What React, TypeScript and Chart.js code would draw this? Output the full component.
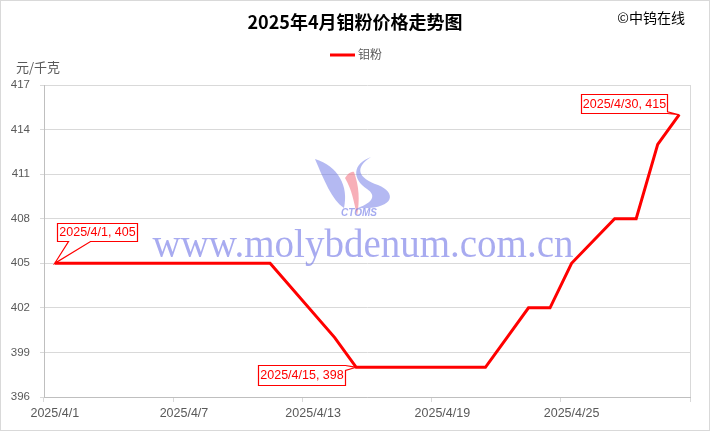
import { useEffect, useRef } from 'react';
import { Chart, registerables } from 'chart.js';

Chart.register(...registerables);

const TITLE = '2025年4月钼粉价格走势图';
const SOURCE = '©中钨在线';
const UNIT = '元/千克';
const SERIES_NAME = '钼粉';
const WATERMARK = 'www.molybdenum.com.cn';
const LOGO_TEXT = 'CTOMS';

const dates = [
  '2025/4/1', '2025/4/2', '2025/4/3', '2025/4/4', '2025/4/5', '2025/4/6',
  '2025/4/7', '2025/4/8', '2025/4/9', '2025/4/10', '2025/4/11', '2025/4/12',
  '2025/4/13', '2025/4/14', '2025/4/15', '2025/4/16', '2025/4/17', '2025/4/18',
  '2025/4/19', '2025/4/20', '2025/4/21', '2025/4/22', '2025/4/23', '2025/4/24',
  '2025/4/25', '2025/4/26', '2025/4/27', '2025/4/28', '2025/4/29', '2025/4/30',
];

// 元/千克; null = no quote that day (weekend / holiday)
const prices: (number | null)[] = [
  405, 405, 405, null, null, null,
  405, 405, 405, 405, 405, null,
  null, 400, 398, 398, 398, 398,
  null, null, 398, 400, 402, 402,
  405, null, 408, 408, 413, 415,
];

const xTickLabels = ['2025/4/1', '2025/4/7', '2025/4/13', '2025/4/19', '2025/4/25'];
const Y_MIN = 396;
const Y_MAX = 417;
const Y_STEP = 3;

// annotated points (category labels)
const calloutDates = ['2025/4/1', '2025/4/15', '2025/4/30'];

const RED = '#ff0000';
const GRID = '#d9d9d9';
const AXIS = '#bfbfbf';
const TEXT = '#595959';
const LATIN = "'Liberation Sans', Arial, sans-serif";
const CJK = "'Noto Sans CJK SC', 'Noto Sans', sans-serif";

// callout box styles: offset of box centre from point, box size, wedge side
const calloutStyles = [
  { dx: 42, dy: -31, w: 80, h: 18, side: 'bottom' },
  { dx: -55, dy: 8, w: 87, h: 20, side: 'right' },
  { dx: -55, dy: -11, w: 86, h: 19, side: 'right' },
];

const decorPlugin = {
  id: 'decor',
  beforeDraw(chart: any) {
    const { ctx, width, height } = chart;
    ctx.save();
    ctx.fillStyle = '#ffffff';
    ctx.fillRect(0, 0, width, height);
    ctx.restore();
  },
  beforeDatasetsDraw(chart: any) {
    const { ctx, chartArea } = chart;
    const cx = (chartArea.left + chartArea.right) / 2;
    const cy = (chartArea.top + chartArea.bottom) / 2;
    ctx.save();
    // watermark url
    ctx.font = `39px 'Liberation Serif', 'Times New Roman', serif`;
    ctx.fillStyle = 'rgba(110,115,230,0.6)';
    ctx.textAlign = 'center';
    ctx.textBaseline = 'alphabetic';
    ctx.fillText(WATERMARK, cx - 4, cy + 16);

    // logo, relative to centre
    const ox = cx - 367;
    const oy = cy - 241;
    ctx.translate(ox, oy);
    ctx.fillStyle = 'rgba(105,115,230,0.5)';
    // left swoosh
    ctx.beginPath();
    ctx.moveTo(315, 159);
    ctx.bezierCurveTo(338, 166, 349, 186, 344, 208);
    ctx.bezierCurveTo(332, 200, 324, 180, 315, 159);
    ctx.fill();
    // right swoosh
    ctx.beginPath();
    ctx.moveTo(371, 157);
    ctx.bezierCurveTo(354, 168, 358, 178, 378, 185);
    ctx.bezierCurveTo(398, 193, 394, 210, 358, 208);
    ctx.bezierCurveTo(374, 202, 376, 195, 367, 189);
    ctx.bezierCurveTo(352, 179, 352, 164, 371, 157);
    ctx.fill();
    // pink middle
    ctx.fillStyle = 'rgba(240,110,125,0.55)';
    ctx.beginPath();
    ctx.moveTo(345, 178);
    ctx.bezierCurveTo(348, 173, 352, 171, 354, 172);
    ctx.bezierCurveTo(359, 186, 360, 200, 357, 216);
    ctx.bezierCurveTo(354, 202, 352, 190, 345, 178);
    ctx.fill();
    ctx.font = `italic bold 10px ${LATIN}`;
    ctx.fillStyle = 'rgba(105,115,230,0.6)';
    ctx.textAlign = 'center';
    ctx.textBaseline = 'middle';
    ctx.fillText(LOGO_TEXT, 359, 213);
    ctx.restore();
  },
  afterDraw(chart: any) {
    const { ctx, chartArea, width, height } = chart;
    ctx.save();
    // plot area right border
    ctx.strokeStyle = GRID;
    ctx.lineWidth = 1;
    ctx.beginPath();
    ctx.moveTo(Math.round(chartArea.right) + 0.5, chartArea.top);
    ctx.lineTo(Math.round(chartArea.right) + 0.5, chartArea.bottom);
    ctx.stroke();
    // outer border
    ctx.strokeRect(0.5, 0.5, width - 1, height - 1);

    // title
    ctx.fillStyle = '#000000';
    ctx.textBaseline = 'middle';
    ctx.textAlign = 'center';
    ctx.font = `bold 18px ${CJK}`;
    ctx.fillText(TITLE, 355, 22);
    // source
    ctx.textAlign = 'right';
    ctx.font = `14px ${CJK}`;
    ctx.fillText(SOURCE, 685, 18);
    // legend
    ctx.strokeStyle = RED;
    ctx.lineWidth = 3;
    ctx.beginPath();
    ctx.moveTo(330, 55);
    ctx.lineTo(355, 55);
    ctx.stroke();
    ctx.fillStyle = TEXT;
    ctx.textAlign = 'left';
    ctx.font = `12px ${CJK}`;
    ctx.fillText(SERIES_NAME, 358, 54);
    // unit
    ctx.font = `13px ${CJK}`;
    ctx.fillText(UNIT, 16, 67);

    // callouts
    const meta = chart.getDatasetMeta(0);
    calloutDates.forEach((d, k) => {
      const i = dates.indexOf(d);
      const pt = meta.data[i];
      if (!pt) return;
      const st = calloutStyles[k];
      const px = pt.x;
      const py = pt.y;
      const bx = Math.round(px + st.dx - st.w / 2) + 0.5;
      const by = Math.round(py + st.dy - st.h / 2) + 0.5;
      ctx.lineWidth = 1.2;
      ctx.strokeStyle = RED;
      ctx.fillStyle = '#ffffff';
      ctx.beginPath();
      if (st.side === 'bottom') {
        const a = bx + 11;
        const b = bx + 33;
        ctx.moveTo(bx, by);
        ctx.lineTo(bx + st.w, by);
        ctx.lineTo(bx + st.w, by + st.h);
        ctx.lineTo(b, by + st.h);
        ctx.lineTo(px, py);
        ctx.lineTo(a, by + st.h);
        ctx.lineTo(bx, by + st.h);
        ctx.closePath();
      } else {
        const rx = bx + st.w;
        const a = Math.min(by + st.h, Math.max(by, py - 3));
        const b = Math.min(by + st.h, a + 5);
        ctx.moveTo(bx, by);
        ctx.lineTo(rx, by);
        ctx.lineTo(rx, a);
        ctx.lineTo(px, py);
        ctx.lineTo(rx, b);
        ctx.lineTo(rx, by + st.h);
        ctx.lineTo(bx, by + st.h);
        ctx.closePath();
      }
      ctx.fill();
      ctx.stroke();
      ctx.fillStyle = RED;
      ctx.textAlign = 'center';
      ctx.textBaseline = 'middle';
      ctx.font = `12.5px ${LATIN}`;
      ctx.fillText(`${d}, ${prices[i]}`, bx + st.w / 2, by + st.h / 2 + 0.5);
    });
    ctx.restore();
  },
};

export default function App() {
  const ref = useRef<HTMLCanvasElement | null>(null);

  useEffect(() => {
    if (!ref.current) return;
    const tickIdx = (v: any) => xTickLabels.indexOf(dates[v]) >= 0;
    const chart = new Chart(ref.current, {
      type: 'line',
      data: {
        labels: dates,
        datasets: [
          {
            label: SERIES_NAME,
            data: prices,
            borderColor: RED,
            backgroundColor: RED,
            borderWidth: 3,
            pointRadius: 0,
            pointHoverRadius: 0,
            tension: 0,
            spanGaps: true,
            borderJoinStyle: 'miter',
          },
        ],
      },
      options: {
        responsive: false,
        animation: false,
        devicePixelRatio: 1,
        layout: { padding: { left: 0, right: 20, top: 85, bottom: 0 } },
        plugins: {
          legend: { display: false },
          title: { display: false },
          tooltip: { enabled: false },
        },
        scales: {
          x: {
            type: 'category',
            offset: true,
            grid: {
              offset: true,
              drawOnChartArea: false,
              drawTicks: true,
              tickLength: 5,
              color: (c: any) =>
                c.index === undefined || tickIdx(c.index) ? GRID : 'rgba(0,0,0,0)',
              tickColor: (c: any) =>
                c.index === undefined || tickIdx(c.index) ? GRID : 'rgba(0,0,0,0)',
            },
            border: { display: true, color: AXIS, width: 1 },
            ticks: {
              autoSkip: false,
              maxRotation: 0,
              minRotation: 0,
              padding: 4,
              color: TEXT,
              font: { family: LATIN, size: 12.5 },
              callback: (v: any) => (tickIdx(v) ? dates[v] : ''),
            },
            afterFit: (s: any) => {
              s.height = 34;
            },
          },
          y: {
            min: Y_MIN,
            max: Y_MAX,
            grid: {
              color: GRID,
              tickColor: GRID,
              drawTicks: true,
              tickLength: 4,
            },
            border: { display: true, color: AXIS, width: 1 },
            ticks: {
              stepSize: Y_STEP,
              padding: 10,
              color: TEXT,
              font: { family: LATIN, size: 11.5 },
            },
            afterFit: (s: any) => {
              s.width = 44;
            },
          },
        },
      },
      plugins: [decorPlugin],
    });
    return () => chart.destroy();
  }, []);

  return (
    <div style={{ position: 'fixed', left: 0, top: 0, width: 710, height: 431, background: '#fff' }}>
      <canvas ref={ref} width={710} height={431} style={{ width: 710, height: 431, display: 'block' }} />
    </div>
  );
}
